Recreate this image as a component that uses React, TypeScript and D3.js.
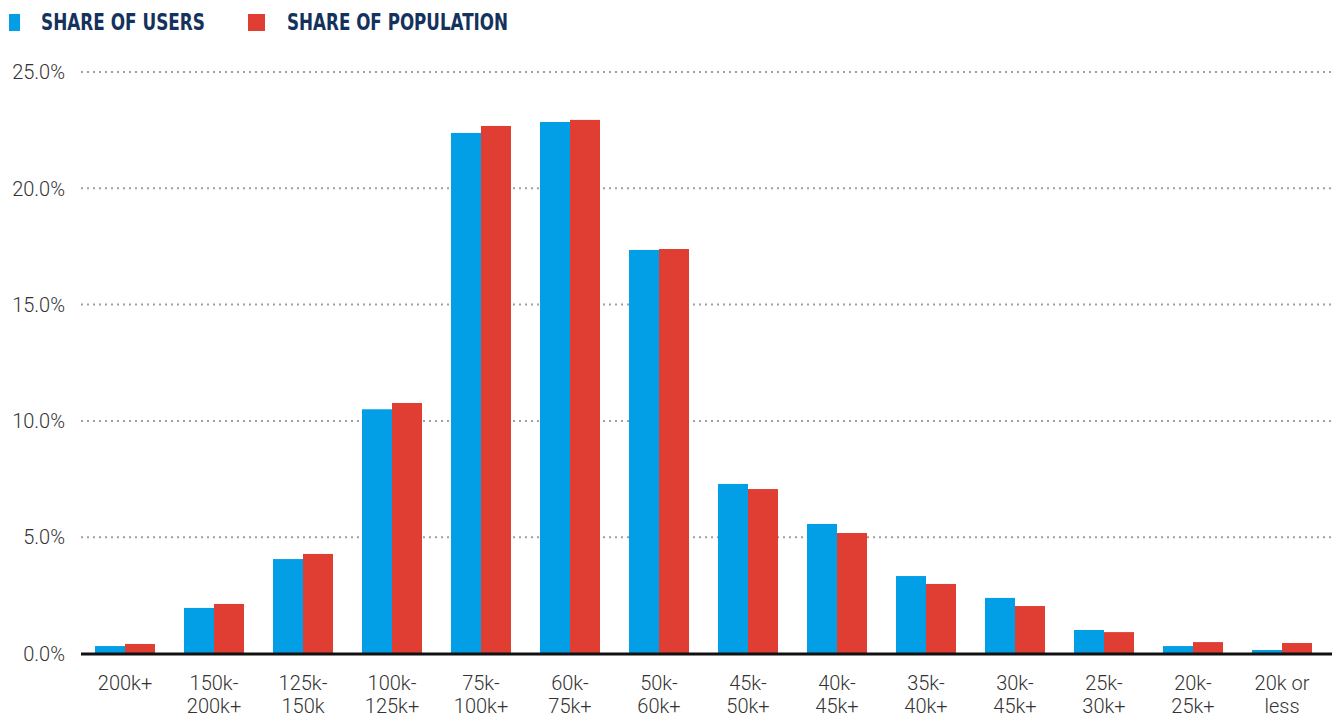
import React from "react";
import * as d3 from "d3";

const categories = [
  "200k+",
  "150k-\n200k+",
  "125k-\n150k",
  "100k-\n125k+",
  "75k-\n100k+",
  "60k-\n75k+",
  "50k-\n60k+",
  "45k-\n50k+",
  "40k-\n45k+",
  "35k-\n40k+",
  "30k-\n45k+",
  "25k-\n30k+",
  "20k-\n25k+",
  "20k or\nless",
];

const shareOfUsers = [0.32, 1.96, 4.06, 10.5, 22.38, 22.85, 17.35, 7.29, 5.57, 3.33, 2.39, 1.01, 0.32, 0.15];
const shareOfPopulation = [0.41, 2.13, 4.28, 10.77, 22.68, 22.94, 17.39, 7.07, 5.18, 2.99, 2.04, 0.92, 0.49, 0.45];

const seriesNames = ["SHARE OF USERS", "SHARE OF POPULATION"];
const seriesColors = ["#039fe6", "#e03d33"];
const yTicks = [0, 5, 10, 15, 20, 25];

const W = 1332;
const H = 715;

export default function App() {
  const x0 = d3
    .scaleBand<string>()
    .domain(categories)
    .range([80.5, 1326.5])
    .paddingInner(0.326)
    .paddingOuter(0.163);
  const x1 = d3
    .scaleBand<number>()
    .domain([0, 1])
    .range([0, x0.bandwidth()]);
  const y = d3.scaleLinear().domain([0, 25]).range([653.5, 72]);
  const fmt = d3.format(".1f");
  const series = [shareOfUsers, shareOfPopulation];

  const legendLayout = [
    { sq: 9, sw: 11, tx: 41, len: 164 },
    { sq: 248, sw: 17, tx: 287, len: 221 },
  ];

  return (
    <svg
      width={W}
      height={H}
      style={{ position: "absolute", left: 0, top: 0, background: "#fff" }}
      fontFamily="Roboto, 'Noto Sans', sans-serif"
    >
      {/* legend */}
      {seriesNames.map((name, i) => (
        <g key={name}>
          <rect x={legendLayout[i].sq} y={14} width={legendLayout[i].sw} height={17} fill={seriesColors[i]} />
          <text
            x={legendLayout[i].tx}
            y={30}
            fontFamily="'DejaVu Sans Condensed', 'Roboto', sans-serif"
            fontWeight={700}
            fontSize={23}
            fill="#14325c"
            textLength={legendLayout[i].len}
            lengthAdjust="spacingAndGlyphs"
          >
            {name}
          </text>
        </g>
      ))}

      {/* gridlines and y labels */}
      {yTicks.map((t) => (
        <g key={t}>
          {t !== 0 && (
            <line
              x1={81}
              x2={1332}
              y1={y(t)}
              y2={y(t)}
              stroke="#a0a0a0"
              strokeWidth={2}
              strokeDasharray="2,4"
            />
          )}
          <text
            x={65}
            y={y(t)}
            dy="0.36em"
            textAnchor="end"
            fontSize={20}
            fontWeight={300}
            fill="#333"
          >
            {fmt(t)}%
          </text>
        </g>
      ))}

      {/* bars */}
      {categories.map((c, ci) => (
        <g key={c} transform={`translate(${x0(c)},0)`}>
          {series.map((vals, si) => (
            <rect
              key={si}
              x={x1(si)}
              y={y(vals[ci])}
              width={x1.bandwidth()}
              height={y(0) - y(vals[ci])}
              fill={seriesColors[si]}
            />
          ))}
        </g>
      ))}

      {/* baseline */}
      <line x1={81} x2={1332} y1={y(0) + 0.5} y2={y(0) + 0.5} stroke="#111" strokeWidth={3} />

      {/* x labels */}
      {categories.map((c) => {
        const cx = (x0(c) ?? 0) + x0.bandwidth() / 2;
        return (
          <text key={c} textAnchor="middle" fontSize={20} fontWeight={300} fill="#333">
            {c.split("\n").map((line, li) => (
              <tspan key={li} x={cx} y={690 + li * 23}>
                {line}
              </tspan>
            ))}
          </text>
        );
      })}
    </svg>
  );
}
